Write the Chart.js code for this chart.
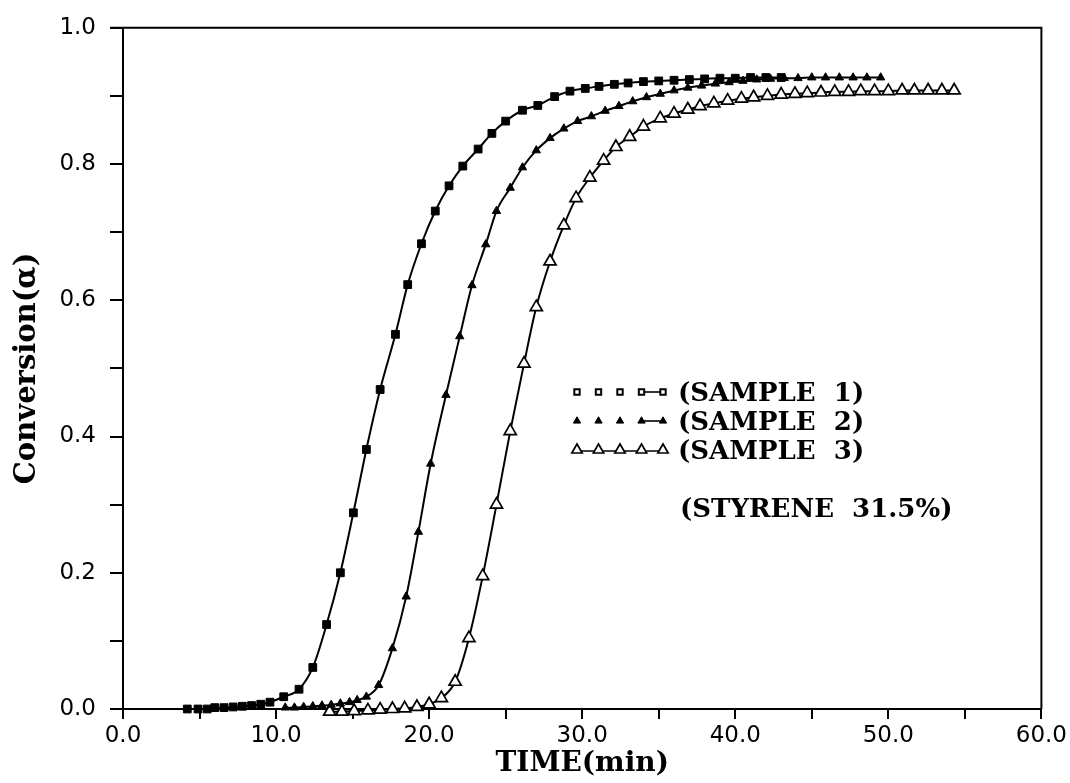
<!DOCTYPE html>
<html><head><meta charset="utf-8">
<script src="https://cdn.jsdelivr.net/npm/chart.js@4.4.0/dist/chart.umd.min.js"></script>
<style>html,body{margin:0;padding:0;background:#fff;}#wrap{width:1070px;height:783px;}</style>
</head><body><div id="wrap"><canvas id="c" width="1070" height="783"></canvas></div>
<script>
// ---- data ----
const s1Time = [4.2,4.9,5.5,6.0,6.6,7.2,7.8,8.4,9.0,9.6,10.5,11.5,12.4,13.3,14.2,15.05,15.9,16.8,17.8,18.6,19.5,20.4,21.3,22.2,23.2,24.1,25.0,26.1,27.1,28.2,29.2,30.2,31.1,32.1,33.0,34.0,35.0,36.0,37.0,38.0,39.0,40.0,41.0,42.0,43.0];
const s1Conv = [0,0,0,0.002,0.002,0.003,0.004,0.005,0.007,0.010,0.018,0.029,0.061,0.124,0.200,0.288,0.381,0.469,0.550,0.623,0.683,0.731,0.768,0.797,0.822,0.845,0.863,0.879,0.886,0.899,0.907,0.911,0.914,0.917,0.919,0.921,0.922,0.923,0.924,0.925,0.926,0.926,0.927,0.927,0.927];

const s2Time = [10.6,11.2,11.8,12.4,13.0,13.6,14.2,14.8,15.3,15.9,16.7,17.6,18.5,19.3,20.1,21.1,22.0,22.8,23.7,24.4,25.3,26.1,27.0,27.9,28.8,29.7,30.6,31.5,32.4,33.3,34.2,35.1,36.0,36.9,37.8,38.7,39.6,40.5,41.4,42.3,43.2,44.1,45.0,45.9,46.8,47.7,48.6,49.5];
const s2Conv = [0.002,0.002,0.003,0.004,0.005,0.006,0.008,0.010,0.013,0.018,0.035,0.089,0.165,0.260,0.360,0.461,0.547,0.622,0.682,0.731,0.765,0.795,0.820,0.838,0.852,0.863,0.870,0.878,0.885,0.892,0.898,0.903,0.908,0.912,0.915,0.918,0.920,0.922,0.924,0.925,0.926,0.926,0.927,0.927,0.927,0.927,0.927,0.927];

const s3Time = [13.5,14.3,15.1,16.0,16.8,17.6,18.4,19.2,20.0,20.8,21.7,22.6,23.5,24.4,25.3,26.2,27.0,27.9,28.8,29.6,30.5,31.4,32.2,33.1,34.0,35.1,36.0,36.9,37.7,38.6,39.5,40.4,41.2,42.1,43.0,43.9,44.7,45.6,46.5,47.4,48.2,49.1,50.0,50.9,51.7,52.6,53.5,54.3];
const s3Conv = [-0.004,-0.004,-0.003,-0.002,-0.001,0.000,0.001,0.003,0.007,0.016,0.040,0.104,0.195,0.300,0.408,0.507,0.590,0.657,0.710,0.750,0.780,0.805,0.825,0.840,0.855,0.867,0.874,0.880,0.885,0.889,0.893,0.896,0.898,0.900,0.902,0.903,0.904,0.905,0.906,0.906,0.907,0.907,0.907,0.908,0.908,0.908,0.908,0.908];

const seriesNames = ['(SAMPLE  1)','(SAMPLE  2)','(SAMPLE  3)'];
const noteText = '(STYRENE  31.5%)';
const xTickValues = [0,5,10,15,20,25,30,35,40,45,50,55,60];
const xTickLabels = ['0.0','','10.0','','20.0','','30.0','','40.0','','50.0','','60.0'];
const yTickValues = [0,0.1,0.2,0.3,0.4,0.5,0.6,0.7,0.8,0.9,1.0];
const yTickLabels = ['0.0','','0.2','','0.4','','0.6','','0.8','','1.0'];
const xTitle = 'TIME(min)';
const yTitle = 'Conversion(α)';

const pts = (t, v) => t.map((x, i) => ({x, y: v[i]}));
const styles = [
  {pointStyle:'rect', pointRadius:5.5, pointBackgroundColor:'#000', pointBorderColor:'#000', pointBorderWidth:1},
  {pointStyle:'triangle', pointRadius:4.8, pointBackgroundColor:'#000', pointBorderColor:'#000', pointBorderWidth:1},
  {pointStyle:'triangle', pointRadius:7, pointBackgroundColor:'#fff', pointBorderColor:'#000', pointBorderWidth:1.7}
];
const data = [pts(s1Time,s1Conv), pts(s2Time,s2Conv), pts(s3Time,s3Conv)];

const frame = {
  id:'frame',
  afterDraw(chart){
    const {ctx, chartArea:a} = chart;
    ctx.save();
    ctx.strokeStyle='#000'; ctx.lineWidth=2;
    ctx.beginPath();
    ctx.moveTo(a.left-13, a.top); ctx.lineTo(a.right, a.top); ctx.lineTo(a.right, a.bottom);
    ctx.stroke();
    // legend
    ctx.font = 'bold 26px "DejaVu Serif"';
    ctx.textBaseline = 'middle';
    const lx0 = 577, dx = 21.5, tx = 678, rows = [392, 421, 450];
    const legR = [3.8, 4.2, 6];
    rows.forEach((ry, k) => {
      const st = styles[k];
      ctx.strokeStyle = '#000'; ctx.lineWidth = 1.6;
      ctx.beginPath();
      if (k === 2) { ctx.moveTo(lx0, ry+1); ctx.lineTo(lx0+4*dx, ry+1); }
      else { ctx.moveTo(lx0+3*dx, ry); ctx.lineTo(lx0+4*dx, ry); }
      ctx.stroke();
      for (let i = 0; i < 5; i++) {
        ctx.fillStyle = (k === 0) ? '#fff' : st.pointBackgroundColor;
        ctx.strokeStyle = '#000';
        ctx.lineWidth = (k === 0) ? 2 : st.pointBorderWidth;
        Chart.helpers.drawPoint(ctx, {pointStyle: st.pointStyle, radius: legR[k], borderWidth: ctx.lineWidth}, lx0 + i*dx, ry);
      }
      ctx.fillStyle = '#000';
      ctx.fillText(seriesNames[k], tx, ry + 2);
    });
    ctx.fillText(noteText, 680, 510);
    ctx.restore();
  }
};

new Chart(document.getElementById('c'), {
  type:'line',
  data:{datasets: data.map((d, k) => Object.assign({
    label: seriesNames[k], data: d, borderColor:'#000', borderWidth:2,
    cubicInterpolationMode:'monotone', fill:false, clip:false
  }, styles[k]))},
  options:{
    responsive:false, animation:false, devicePixelRatio:1,
    layout:{padding:{left:0,right:25,top:24,bottom:0}},
    plugins:{legend:{display:false}, tooltip:{enabled:false}},
    scales:{
      x:{type:'linear', min:0, max:60,
        afterBuildTicks: s => { s.ticks = xTickValues.map(v => ({value:v})); },
        afterFit: s => { s.height = 74; },
        ticks:{autoSkip:false, maxRotation:0, color:'#000', padding:3,
          font:{family:'DejaVu Sans', size:23},
          callback:(v) => { const i = xTickValues.indexOf(v); return i < 0 ? '' : xTickLabels[i]; }},
        grid:{drawOnChartArea:false, drawTicks:true, tickLength:10, color:'#000', lineWidth:2},
        border:{display:true, color:'#000', width:2},
        title:{display:true, text:xTitle, color:'#000', font:{family:'DejaVu Serif', weight:'bold', size:28}, padding:{top:0,bottom:2}}
      },
      y:{type:'linear', min:0, max:1,
        afterBuildTicks: s => { s.ticks = yTickValues.map(v => ({value:v})); },
        afterFit: s => { s.width = 123; },
        ticks:{autoSkip:false, color:'#000', padding:14,
          font:{family:'DejaVu Sans', size:23},
          callback:(v) => { const i = yTickValues.findIndex(t => Math.abs(t - v) < 1e-9); return i < 0 ? '' : yTickLabels[i]; }},
        grid:{drawOnChartArea:false, drawTicks:true, tickLength:13, color:'#000', lineWidth:2},
        border:{display:true, color:'#000', width:2},
        title:{display:true, text:yTitle, color:'#000', font:{family:'DejaVu Serif', weight:'bold', size:29}, padding:{top:10,bottom:0}}
      }
    }
  },
  plugins:[frame]
});
</script></body></html>
